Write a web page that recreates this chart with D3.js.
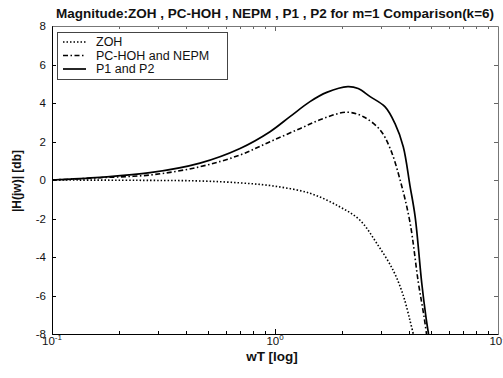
<!DOCTYPE html>
<html>
<head>
<meta charset="utf-8">
<script src="https://cdn.jsdelivr.net/npm/d3@7"></script>
<style>
  body { margin: 0; background: #fff; }
  text { font-family: "Liberation Sans", Arial, sans-serif; fill: #111; }
</style>
</head>
<body>
<script>
// data (wT on a log axis, magnitude in dB)
var zohW  = [0.1, 0.275, 0.461, 0.697, 0.98, 1.435, 1.95, 2.40, 2.86, 3.39, 3.76, 4.03, 4.17];
var zohDb = [0, -0.02, -0.05, -0.15, -0.31, -0.69, -1.39, -2.08, -3.29, -4.7, -6.0, -7.3, -8];

var pcW  = [0.1, 0.164, 0.275, 0.461, 0.697, 0.95, 1.30, 1.65, 2.10, 2.49, 2.96, 3.28, 3.64, 4.03, 4.39, 4.66, 4.78];
var pcDb = [0, 0.12, 0.26, 0.69, 1.3, 1.99, 2.68, 3.2, 3.52, 3.29, 2.6, 1.65, 0, -2.2, -5.3, -7.1, -8];

var p1W  = [0.1, 0.164, 0.275, 0.461, 0.697, 0.95, 1.167, 1.435, 1.706, 2.12, 2.36, 2.67, 3.11, 3.45, 3.76, 4.03, 4.25, 4.55, 4.75, 4.88];
var p1Db = [0, 0.14, 0.38, 0.88, 1.64, 2.51, 3.29, 4.07, 4.55, 4.85, 4.75, 4.33, 3.81, 2.94, 1.73, -0.3, -1.9, -5.35, -7.1, -8];

var legendNames = ["ZOH", "PC-HOH and NEPM", "P1 and P2"];
var yTicks = [-8, -6, -4, -2, 0, 2, 4, 6, 8];
var xMajor = [0.1, 1, 10];
var xExp = ["-1", "0", "1"];

var W = 503, H = 378;
var pL = 52, pR = 498, pT = 26, pB = 334;

var x = d3.scaleLog().domain([0.1, 10]).range([pL, pR]);
var y = d3.scaleLinear().domain([-8, 8]).range([pB, pT]);

var svg = d3.select("body").append("svg")
  .attr("width", W)
  .attr("height", H);

svg.append("defs").append("clipPath").attr("id", "clip")
  .append("rect").attr("x", pL).attr("y", pT - 2)
  .attr("width", pR - pL).attr("height", pB - pT + 2);

///// ticks (matlab style, inside, on all four sides) /////
var minor = [];
for (var dec = 0.1; dec < 10; dec *= 10) {
  for (var k = 2; k <= 9; k++) minor.push(dec * k);
}
var tk = svg.append("g").attr("stroke", "#000").attr("stroke-width", 1);
minor.concat([1]).forEach(function (v) {
  var len = v === 1 ? 5 : 3;
  var px = Math.round(x(v)) + 0.5;
  tk.append("line").attr("x1", px).attr("x2", px).attr("y1", pB).attr("y2", pB - len);
  tk.append("line").attr("x1", px).attr("x2", px).attr("y1", pT).attr("y2", pT + len).attr("stroke", "#666");
});
yTicks.forEach(function (v) {
  var py = Math.round(y(v)) + 0.5;
  tk.append("line").attr("x1", pL).attr("x2", pL + 4).attr("y1", py).attr("y2", py);
  tk.append("line").attr("x1", pR).attr("x2", pR - 4).attr("y1", py).attr("y2", py).attr("stroke", "#666");
});

///// box /////
svg.append("path").attr("fill", "none").attr("stroke", "#777")
  .attr("d", "M" + (pL + 0.5) + "," + (pT + 0.5) + "H" + (pR + 0.5) + "V" + (pB + 0.5));
svg.append("path").attr("fill", "none").attr("stroke", "#000")
  .attr("d", "M" + (pL + 0.5) + "," + (pT + 0.5) + "V" + (pB + 0.5) + "H" + (pR + 0.5));

///// tick labels /////
svg.append("g").attr("text-anchor", "end").attr("font-size", 11.5)
  .selectAll("text").data(yTicks).join("text")
  .attr("x", pL - 6)
  .attr("y", d => y(d))
  .attr("dy", "0.35em")
  .text(d => d);

var xl = svg.append("g").attr("font-size", 11.5).attr("text-anchor", "middle")
  .selectAll("text").data(xMajor).join("text")
  .attr("x", d => x(d))
  .attr("y", pB + 11);
xl.append("tspan").text("10");
xl.append("tspan").attr("font-size", 8).attr("dy", -5).text((d, i) => xExp[i]);

///// labels /////
svg.append("text").attr("x", (pL + pR) / 2).attr("y", 18)
  .attr("text-anchor", "middle").attr("font-weight", "bold").attr("font-size", 13.5)
  .text("Magnitude:ZOH , PC-HOH , NEPM , P1 , P2 for m=1 Comparison(k=6)");

svg.append("text").attr("x", 272).attr("y", 361)
  .attr("text-anchor", "middle").attr("font-weight", "bold").attr("font-size", 13.5)
  .text("wT [log]");

svg.append("text")
  .attr("transform", "translate(21,181) rotate(-90)")
  .attr("text-anchor", "middle").attr("font-weight", "bold").attr("font-size", 12)
  .text("|H(jw)| [db]");

///// curves /////
var line = d3.line().x(d => x(d[0])).y(d => y(d[1])).curve(d3.curveCatmullRom);
var series = [
  { w: zohW, db: zohDb, dash: "1.5,2", sw: 1.6 },
  { w: pcW,  db: pcDb,  dash: "5,2.5,1.5,2.5", sw: 1.6 },
  { w: p1W,  db: p1Db,  dash: null, sw: 1.7 }
];
var curves = svg.append("g").attr("clip-path", "url(#clip)");
series.forEach(function (s) {
  curves.append("path")
    .datum(d3.zip(s.w, s.db))
    .attr("fill", "none")
    .attr("stroke", "#000")
    .attr("stroke-width", s.sw)
    .attr("stroke-dasharray", s.dash)
    .attr("d", line);
});

///// legend /////
var lg = svg.append("g");
lg.append("rect").attr("x", 57.5).attr("y", 32.5).attr("width", 170).attr("height", 47)
  .attr("fill", "#fff").attr("stroke", "#444");
series.forEach(function (s, i) {
  var ly = 42 + i * 13.5;
  lg.append("line").attr("x1", 63).attr("x2", 86).attr("y1", ly).attr("y2", ly)
    .attr("stroke", "#000").attr("stroke-width", s.sw).attr("stroke-dasharray", s.dash);
  lg.append("text").attr("x", 96).attr("y", ly).attr("dy", "0.35em")
    .attr("font-size", 12.5).text(legendNames[i]);
});
</script>
</body>
</html>
